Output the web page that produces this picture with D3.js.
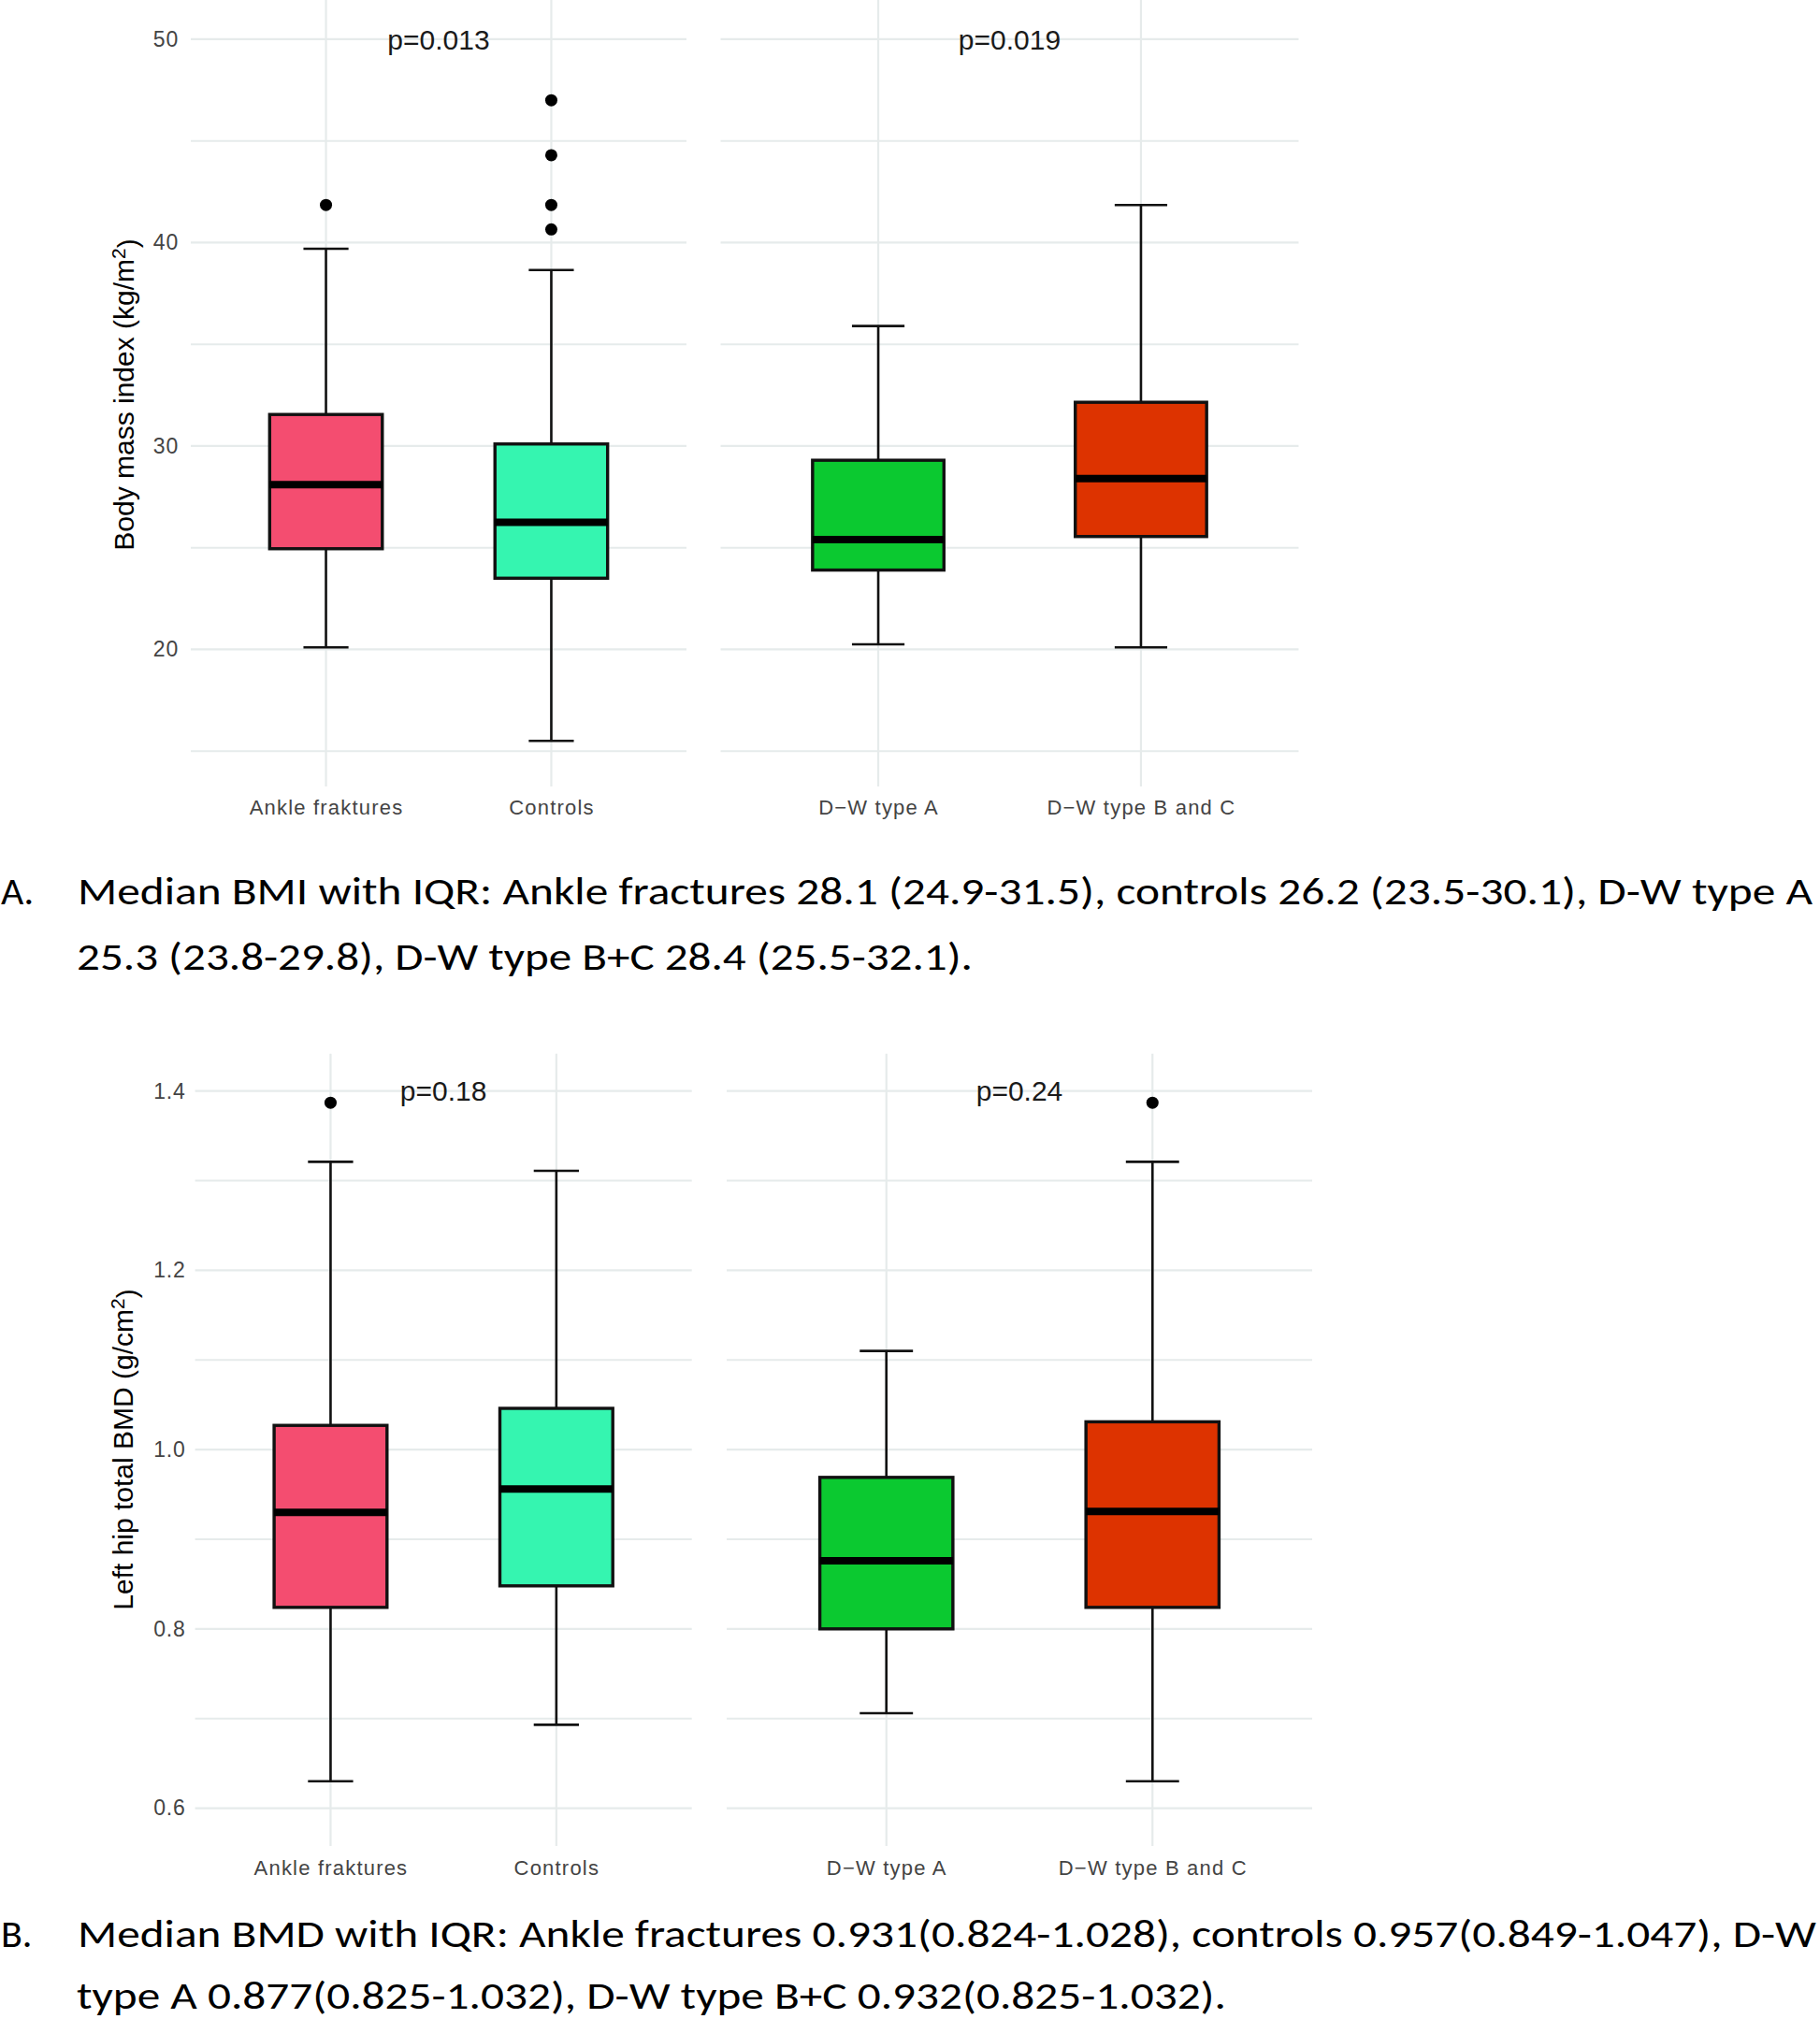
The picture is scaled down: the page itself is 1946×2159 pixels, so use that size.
<!DOCTYPE html>
<html><head><meta charset="utf-8">
<script src="https://cdn.jsdelivr.net/npm/d3@7/dist/d3.min.js"></script>
<style>body{margin:0;background:#fff}</style>
</head><body>
<svg id="chart" width="1946" height="2159"></svg>
<script>
// ---------------- DATA ----------------
const categories = ["Ankle fraktures", "Controls", "D\u2212W type A", "D\u2212W type B and C"];
const boxColors = ["#F44D70", "#35F5B0", "#0BC930", "#DD3300"];

// Panel A: Body mass index
const bmiLowerWhisker = [20.1, 15.5, 20.25, 20.1];
const bmiQ1          = [24.95, 23.5, 23.9, 25.55];
const bmiMedian      = [28.1, 26.25, 25.4, 28.4];
const bmiQ3          = [31.55, 30.1, 29.3, 32.15];
const bmiUpperWhisker= [39.7, 38.65, 35.9, 41.85];
const bmiOutliers    = [[41.85], [47.0, 44.3, 41.85, 40.65], [], []];
const bmiTicks       = [20, 30, 40, 50];
const bmiMinorTicks  = [15, 25, 35, 45];
const bmiPValues     = ["p=0.013", "p=0.019"];
const bmiTitle       = ["Body mass index (kg/m", "2", ")"];

// Panel B: Left hip total BMD
const bmdLowerWhisker = [0.630, 0.693, 0.706, 0.630];
const bmdQ1          = [0.824, 0.848, 0.800, 0.824];
const bmdMedian      = [0.930, 0.956, 0.876, 0.931];
const bmdQ3          = [1.027, 1.046, 0.969, 1.031];
const bmdUpperWhisker= [1.321, 1.311, 1.110, 1.321];
const bmdOutliers    = [[1.387], [], [], [1.387]];
const bmdTicks       = [0.6, 0.8, 1.0, 1.2, 1.4];
const bmdMinorTicks  = [0.7, 0.9, 1.1, 1.3];
const bmdPValues     = ["p=0.18", "p=0.24"];
const bmdTitle       = ["Left hip total BMD (g/cm", "2", ")"];

const captionA = ["A.", "Median BMI with IQR: Ankle fractures 28.1 (24.9-31.5), controls 26.2 (23.5-30.1), D-W type A",
                  "25.3 (23.8-29.8), D-W type B+C 28.4 (25.5-32.1)."];
const captionB = ["B.", "Median BMD with IQR: Ankle fractures 0.931(0.824-1.028), controls 0.957(0.849-1.047), D-W",
                  "type A 0.877(0.825-1.032), D-W type B+C 0.932(0.825-1.032)."];

// ---------------- LAYOUT ----------------
const svg = d3.select("#chart");
svg.append("rect").attr("width", 1946).attr("height", 2159).attr("fill", "#fff");

const gridColor = "#E6EBEB";
const axisTextColor = "#444";
const sansFont = "'Liberation Sans', Arial, Helvetica, sans-serif";

function drawChart(cfg) {
  const y = d3.scaleLinear().domain(cfg.domain).range(cfg.yRange);
  cfg.xRanges.forEach((xr, pi) => {
    const cats = categories.slice(pi * 2, pi * 2 + 2);
    const x = d3.scalePoint().domain(cats).range(xr).padding(0.6);
    const step = x.step();
    const g = svg.append("g");

    // grid
    g.selectAll("line.minor").data(cfg.minor).join("line")
      .attr("x1", xr[0]).attr("x2", xr[1])
      .attr("y1", d => y(d)).attr("y2", d => y(d))
      .attr("stroke", gridColor).attr("stroke-width", 2);
    g.selectAll("line.major").data(cfg.ticks).join("line")
      .attr("x1", xr[0]).attr("x2", xr[1])
      .attr("y1", d => y(d)).attr("y2", d => y(d))
      .attr("stroke", gridColor).attr("stroke-width", 2.2);
    g.selectAll("line.vgrid").data(cats).join("line")
      .attr("x1", d => x(d)).attr("x2", d => x(d))
      .attr("y1", cfg.yRange[0]).attr("y2", cfg.yRange[1])
      .attr("stroke", gridColor).attr("stroke-width", 2.2);

    // y axis labels (left panel only)
    if (pi === 0) {
      const ax = g.append("g").attr("transform", `translate(${xr[0]},0)`)
        .call(d3.axisLeft(y).tickValues(cfg.ticks).tickSize(0).tickPadding(cfg.tickPad)
              .tickFormat(cfg.tickFormat));
      ax.select(".domain").remove();
      ax.selectAll("text").attr("fill", axisTextColor)
        .style("font-family", sansFont)
        .style("font-size", "23px").style("letter-spacing", "0.8px");
    }

    // x axis labels
    const xa = g.append("g").attr("transform", `translate(0,${cfg.xAxisY})`)
      .call(d3.axisBottom(x).tickSize(0).tickPadding(10));
    xa.select(".domain").remove();
    xa.selectAll("text").attr("fill", axisTextColor)
      .style("font-family", sansFont)
      .style("font-size", "22px").style("letter-spacing", "1.2px");

    // boxes
    cats.forEach((c, j) => {
      const i = pi * 2 + j;
      const cx = x(c);
      const bw = step * 0.5, cw = step * 0.2;
      const bg = g.append("g");
      // whiskers
      bg.append("line").attr("x1", cx).attr("x2", cx)
        .attr("y1", y(cfg.q3[i])).attr("y2", y(cfg.hi[i]))
        .attr("stroke", "#111").attr("stroke-width", 2.6);
      bg.append("line").attr("x1", cx).attr("x2", cx)
        .attr("y1", y(cfg.q1[i])).attr("y2", y(cfg.lo[i]))
        .attr("stroke", "#111").attr("stroke-width", 2.6);
      // caps
      [cfg.hi[i], cfg.lo[i]].forEach(v => {
        bg.append("line").attr("x1", cx - cw / 2).attr("x2", cx + cw / 2)
          .attr("y1", y(v)).attr("y2", y(v))
          .attr("stroke", "#111").attr("stroke-width", 2.6);
      });
      // box
      bg.append("rect").attr("x", cx - bw / 2).attr("width", bw)
        .attr("y", y(cfg.q3[i])).attr("height", y(cfg.q1[i]) - y(cfg.q3[i]))
        .attr("fill", boxColors[i]).attr("stroke", "#111").attr("stroke-width", 3.4);
      // median
      bg.append("line").attr("x1", cx - bw / 2).attr("x2", cx + bw / 2)
        .attr("y1", y(cfg.med[i])).attr("y2", y(cfg.med[i]))
        .attr("stroke", "#000").attr("stroke-width", 8);
      // outliers
      bg.selectAll("circle").data(cfg.out[i]).join("circle")
        .attr("cx", cx).attr("cy", d => y(d)).attr("r", 6.5).attr("fill", "#000");
    });

    // p-value
    g.append("text").attr("x", (x(cats[0]) + x(cats[1])) / 2).attr("y", y(cfg.pAt))
      .attr("dy", "0.36em").attr("text-anchor", "middle")
      .attr("fill", "#1A1A1A")
      .style("font-family", sansFont).style("font-size", "30px")
      .text(cfg.p[pi]);
  });

  // y title
  const t = svg.append("text")
    .attr("transform", `translate(${cfg.titleX},${cfg.titleY}) rotate(-90)`)
    .attr("text-anchor", "middle").attr("fill", "#000")
    .style("font-family", sansFont).style("font-size", "30px");
  t.append("tspan").text(cfg.title[0]);
  t.append("tspan").attr("dy", "-0.42em").style("font-size", "21px").text(cfg.title[1]);
  t.append("tspan").attr("dy", "0.42em").text(cfg.title[2]);
}

drawChart({
  domain: [13.26, 51.93], yRange: [841, 0],
  xRanges: [[204, 734], [770.5, 1388.5]],
  ticks: bmiTicks, minor: bmiMinorTicks, tickFormat: d3.format("d"), tickPad: 13,
  lo: bmiLowerWhisker, q1: bmiQ1, med: bmiMedian, q3: bmiQ3, hi: bmiUpperWhisker, out: bmiOutliers,
  p: bmiPValues, pAt: 50, xAxisY: 845,
  title: bmiTitle, titleX: 143, titleY: 422
});

drawChart({
  domain: [0.5578, 1.4417], yRange: [1974, 1126.7],
  xRanges: [[208.6, 739.7], [777, 1403]],
  ticks: bmdTicks, minor: bmdMinorTicks, tickFormat: d3.format(".1f"), tickPad: 10,
  lo: bmdLowerWhisker, q1: bmdQ1, med: bmdMedian, q3: bmdQ3, hi: bmdUpperWhisker, out: bmdOutliers,
  p: bmdPValues, pAt: 1.4, xAxisY: 1979.4,
  title: bmdTitle, titleX: 142, titleY: 1550
});

// captions
function caption(lines, baselines, lengths) {
  const font = "Carlito, Calibri, 'Liberation Sans', Arial, sans-serif";
  svg.append("text").attr("x", 1).attr("y", baselines[0]).attr("fill", "#000")
    .style("font-family", font).style("font-size", "42px").text(lines[0]);
  svg.append("text").attr("x", 83).attr("y", baselines[0]).attr("fill", "#000")
    .attr("textLength", lengths[0]).attr("lengthAdjust", "spacingAndGlyphs")
    .style("font-family", font).style("font-size", "42px").text(lines[1]);
  svg.append("text").attr("x", 82).attr("y", baselines[1]).attr("fill", "#000")
    .attr("textLength", lengths[1]).attr("lengthAdjust", "spacingAndGlyphs")
    .style("font-family", font).style("font-size", "42px").text(lines[2]);
}
caption(captionA, [966.7, 1036.7], [1855, 958]);
caption(captionB, [2081.7, 2148.3], [1859, 1229]);
</script>
</body></html>
